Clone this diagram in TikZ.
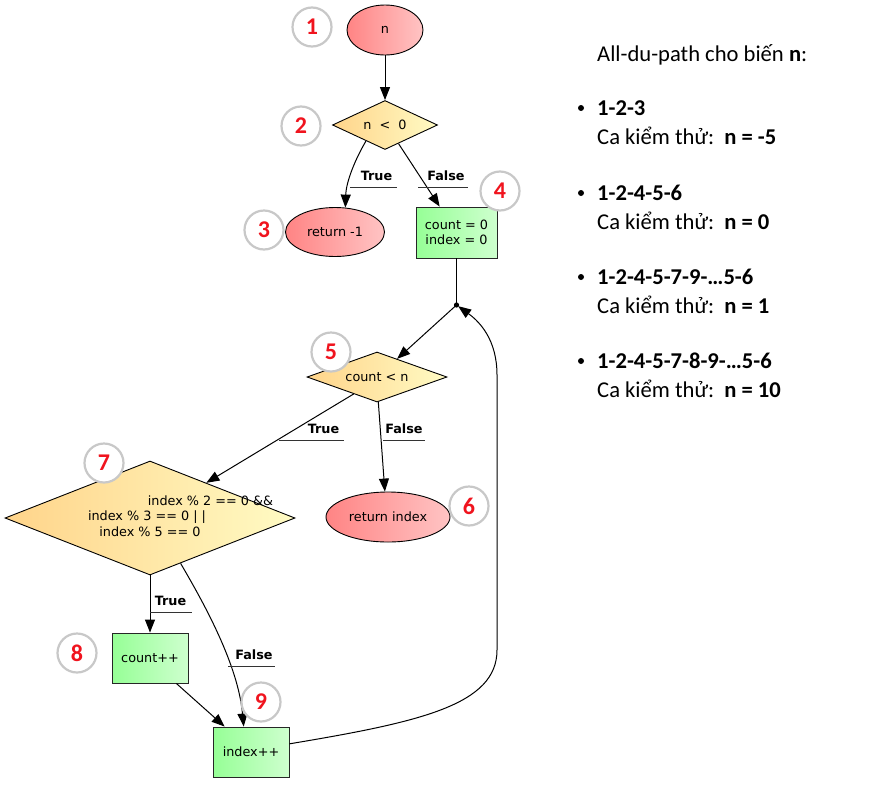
\documentclass[tikz,border=0pt]{standalone}
\usepackage{fontspec}
\setmainfont{Carlito}
\newfontfamily\djvfont{DejaVu Sans}
\usetikzlibrary{shapes.geometric,arrows.meta}
\definecolor{ellL}{RGB}{255,132,132}
\definecolor{ellR}{RGB}{255,196,196}
\definecolor{diaL}{RGB}{255,212,138}
\definecolor{diaR}{RGB}{255,251,196}
\definecolor{boxL}{RGB}{150,255,150}
\definecolor{boxR}{RGB}{206,255,206}
\definecolor{numred}{RGB}{240,20,30}
\definecolor{numgray}{RGB}{200,200,200}
\tikzset{
  base/.style={draw=black, line width=0.9pt, inner sep=0pt, font=\djvfont\fontsize{12.8}{14.5}\selectfont},
  ell/.style={base, ellipse, left color=ellL, right color=ellR},
  dia/.style={base, diamond, left color=diaL, right color=diaR},
  stepbox/.style={base, rectangle, draw=black!85, left color=boxL, right color=boxR, align=center},
  arr/.style={draw=black, line width=1pt, -{Triangle[length=13pt,width=10pt]}},
  conn/.style={draw=black, line width=1pt},
  lbl/.style={font=\djvfont\bfseries\fontsize{12.8}{14}\selectfont, inner sep=0pt},
  uline/.style={draw=black!80, line width=0.9pt},
  numc/.style={circle, draw=numgray, line width=2.2pt, fill=white, minimum size=39pt, inner sep=0pt,
     text=numred, font=\bfseries\fontsize{24}{25}\selectfont},
  rtext/.style={anchor=base west, inner sep=0pt, font=\fontsize{22.6}{26}\selectfont},
  dtext/.style={inner sep=0pt, font=\djvfont\fontsize{12.8}{14}\selectfont}
}
\begin{document}
\begin{tikzpicture}[x=1pt,y=-1pt]
\useasboundingbox (0,0) rectangle (885,790);
% nodes
\node[ell, minimum width=76pt, minimum height=50pt] (n1) at (385,30) {n};
\node[dia, aspect=2.14, minimum width=105pt, minimum height=49pt] (d2) at (385,125) {n\ \ <\ \ 0};
\node[ell, minimum width=99pt, minimum height=49pt] (e3) at (335,232) {return -1};
\node[stepbox, minimum width=81pt, minimum height=51pt] (b4) at (456.5,232.5) {count = 0\\index = 0};
\coordinate (j) at (456.5,305);
\fill (j) circle (2.6pt);
\node[dia, aspect=2.8, minimum width=140pt, minimum height=50pt] (d5) at (377,377) {count < n};
\node[ell, minimum width=124pt, minimum height=50pt] (e6) at (388,517) {return index};
\node[dia, aspect=2.54, minimum width=290pt, minimum height=114pt] (d7) at (150,518) {};
\node[dtext] (t7a) at (210.5,501) {index \% 2 == 0 \&\&};
\node[dtext] (t7b) at (147,517.5) {index \% 3 == 0 | |};
\node[dtext] (t7c) at (150,532) {index \% 5 == 0};
\node[stepbox, minimum width=76pt, minimum height=50pt] (b8) at (150,658) {count++};
\node[stepbox, minimum width=76pt, minimum height=50pt] (b9) at (251,752) {index++};
% edges
\draw[arr] (n1) -- (d2);
\draw[arr] (d2.-140) .. controls (352,165) and (346,185) .. (e3.67);
\draw[arr] (d2.-54) -- (b4.123);
\draw[conn] (b4.south) -- (j);
\draw[arr] (j) -- (d5.42);
\draw[arr] (d5.-144) -- (d7.32.5);
\draw[arr] (d5.-87) -- (e6.97);
\draw[arr] (d7.south) -- (b8.north);
\draw[arr] (d7.-56) .. controls (205,605) and (238,665) .. (b9.106);
\draw[arr] (b8.-44) -- (b9.136);
\draw[arr, shorten >=2pt] (b9.12) .. controls (420,722) and (497,705) .. (497,650) -- (497,375) .. controls (497,340) and (480,322) .. (j);
% edge labels
\node[lbl] (l1) at (376.5,176) {True};
\draw[uline] (350,187) -- (397,187);
\node[lbl] (l2) at (446,176) {False};
\draw[uline] (418,187) -- (468,187);
\node[lbl] (l3) at (323.5,429) {True};
\draw[uline] (279,440) -- (344,440);
\node[lbl] (l4) at (404,429) {False};
\draw[uline] (383,440) -- (425,440);
\node[lbl] (l5) at (170.5,601) {True};
\draw[uline] (150,612) -- (192,612);
\node[lbl] (l6) at (254,655) {False};
\draw[uline] (228,666) -- (275,666);
% number circles
\node[numc] (c1) at (312,27) {1};
\node[numc] (c2) at (301,126) {2};
\node[numc] (c3) at (264,230) {3};
\node[numc] (c4) at (500,191) {4};
\node[numc] (c5) at (331,352) {5};
\node[numc] (c6) at (469,506) {6};
\node[numc] (c7) at (104,463) {7};
\node[numc] (c8) at (77,653) {8};
\node[numc] (c9) at (261,702) {9};
% right text
\node[rtext] (h) at (597,61) {All-du-path cho biến \textbf{n}:};
\foreach \y/\p/\c [count=\i] in {108/1-2-3/-5, 193/1-2-4-5-6/0, 277/1-2-4-5-7-9-…5-6/1, 361/1-2-4-5-7-8-9-…5-6/10}{
  \fill (581,\y) circle (3pt);
  \node[rtext] (p\i) at (597,\y+7.5) {\textbf{\p}};
  \node[rtext] (k\i) at (597,\y+36.5) {Ca kiểm thử:\ \ \textbf{n = \c}};
}
\end{tikzpicture}
\end{document}
